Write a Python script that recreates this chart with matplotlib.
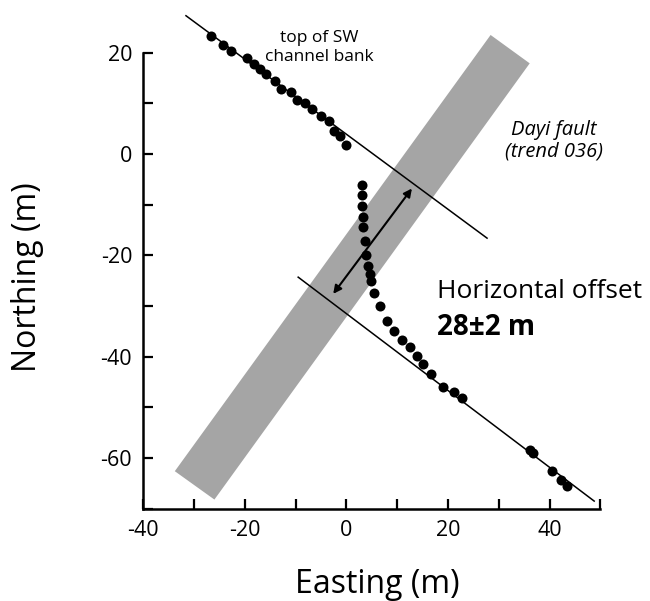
import matplotlib
matplotlib.use('Agg')
import matplotlib.pyplot as plt
from matplotlib.patches import Polygon

plt.rcParams['font.family'] = ['Open Sans', 'DejaVu Sans']

# surveyed points along the channel bank (easting, northing in m)
east = [-26.7, -24.4, -22.8, -19.6, -18.2, -17.0, -15.8, -14.1, -12.9, -11.0,
        -9.7, -8.1, -6.7, -5.0, -3.4, -2.5, -1.3, -0.1,
        3.1, 3.1, 3.1, 3.2, 3.3, 3.6, 3.8, 4.3, 4.6, 4.8, 5.4, 6.6, 7.9,
        9.4, 11.0, 12.5, 13.9, 15.1, 16.6, 19.1, 21.1, 22.8,
        36.1, 36.8, 40.4, 42.2, 43.5]
north = [23.2, 21.5, 20.4, 18.9, 17.7, 16.8, 15.7, 14.5, 12.8, 12.3,
         10.7, 10.0, 8.9, 7.5, 6.5, 4.5, 3.6, 1.7,
         -6.1, -8.1, -10.3, -12.4, -14.5, -17.2, -19.9, -22.1, -23.6, -25.0, -27.5, -30.0, -32.9,
         -35.0, -36.7, -38.1, -39.8, -41.4, -43.4, -46.0, -47.0, -48.2,
         -58.5, -59.0, -62.5, -64.4, -65.6]

# fitted lines to the bank (start / end)
upper_e = [-31.6, 27.7]
upper_n = [27.3, -16.6]
lower_e = [-9.5, 48.8]
lower_n = [-24.3, -68.5]

# fault zone polygon corners
fault_e = [-33.8, 28.4, 36.1, -26.0]
fault_n = [-62.6, 23.5, 17.9, -68.2]

# offset arrow ends
arrow_e = [-2.6, 12.9]
arrow_n = [-27.6, -6.8]

fig = plt.figure(figsize=(6.5, 6.01), dpi=100)
ax = fig.add_axes([0.2205, 0.1536, 0.703, 0.7587])

ax.add_patch(Polygon(list(zip(fault_e, fault_n)), closed=True,
                     facecolor='#a5a5a5', edgecolor='none', clip_on=False, zorder=1))

ax.plot(upper_e, upper_n, color='black', lw=1.1, clip_on=False, zorder=2)
ax.plot(lower_e, lower_n, color='black', lw=1.1, clip_on=False, zorder=2)

ax.scatter(east, north, s=52, color='black', clip_on=False, zorder=3, linewidths=0)

ax.annotate('', xy=(arrow_e[1], arrow_n[1]), xytext=(arrow_e[0], arrow_n[0]),
            arrowprops=dict(arrowstyle='<|-|>', color='black', lw=1.5,
                            mutation_scale=12, shrinkA=0, shrinkB=0), zorder=4)

ax.set_xlim(-40, 50)
ax.set_ylim(-70, 20)
ax.set_xticks(range(-40, 51, 10))
ax.set_xticklabels(['-40', '', '-20', '', '0', '', '20', '', '40', ''])
ax.set_yticks(range(-70, 21, 10))
ax.set_yticklabels(['', '-60', '', '-40', '', '-20', '', '0', '', '20'])
ax.tick_params(direction='in', length=7, width=1.6, labelsize=15.5, pad=8)

ax.spines['top'].set_visible(False)
ax.spines['right'].set_visible(False)
ax.spines['left'].set_linewidth(1.8)
ax.spines['bottom'].set_linewidth(1.8)

# annotations
ax.text(-5.3, 22.2, 'top of SW', ha='center', va='baseline', fontsize=12.5)
ax.text(-5.3, 18.35, 'channel bank', ha='center', va='baseline', fontsize=12.5)
ax.text(40.9, 3.8, 'Dayi fault', ha='center', va='baseline', fontsize=14.5, style='italic')
ax.text(40.9, -0.4, '(trend 036)', ha='center', va='baseline', fontsize=14.5, style='italic')
ax.text(17.8, -28.4, 'Horizontal offset', ha='left', va='baseline', fontsize=19)
ax.text(17.8, -35.7, '28±2 m', ha='left', va='baseline', fontsize=20, fontweight='bold')

fig.text(377 / 650, 1 - 593 / 601, 'Easting (m)', ha='center', va='baseline', fontsize=23)
fig.text(28 / 650, 1 - 277 / 601, 'Northing (m)', ha='center', va='center',
         fontsize=23, rotation=90)

fig.savefig('out.png', dpi=100)
